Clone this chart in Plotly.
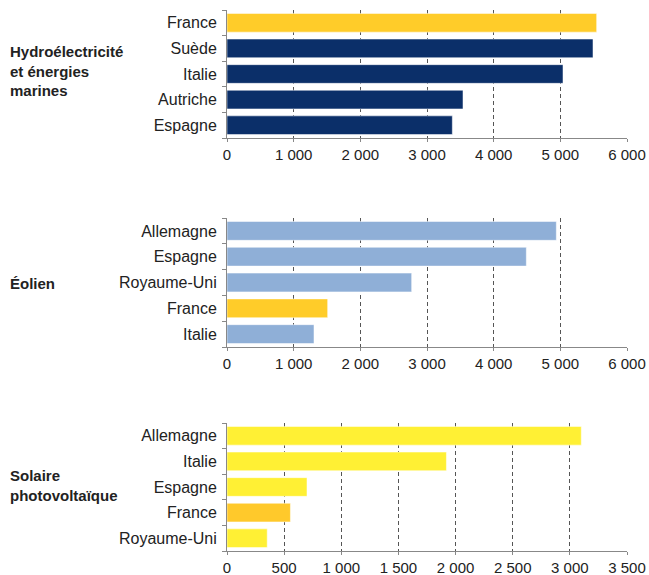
import plotly.graph_objects as go

# Hydroélectricité et énergies marines
hydro_pays = ["France", "Suède", "Italie", "Autriche", "Espagne"]
hydro_vals = [5545, 5490, 5040, 3540, 3380]

# Éolien
eolien_pays = ["Allemagne", "Espagne", "Royaume-Uni", "France", "Italie"]
eolien_vals = [4940, 4490, 2770, 1510, 1305]

# Solaire photovoltaïque
solaire_pays = ["Allemagne", "Italie", "Espagne", "France", "Royaume-Uni"]
solaire_vals = [3100, 1920, 700, 555, 352]

x_ticks_6000 = [0, 1000, 2000, 3000, 4000, 5000, 6000]
x_ticks_3500 = [0, 500, 1000, 1500, 2000, 2500, 3000, 3500]

YELLOW_FR = "#ffcc29"
NAVY = "#0b2f69"
LIGHT_BLUE = "#8fafd7"
SOLAR = "#fff034"
SOLAR_FR = "#ffc92b"

FONT = "Liberation Sans, Arial, sans-serif"

L, R, T, B = 227, 22, 10, 24
PW = 649 - L - R
PH = 575 - T - B


def fmt(v):
    return f"{v:,}".replace(",", " ")


def colors(pays, base, fr):
    return [fr if p == "France" else base for p in pays]


def dom(top_px, bot_px):
    return [(575 - B - bot_px) / PH, (575 - B - top_px) / PH]


panels = [
    (hydro_pays, hydro_vals, NAVY, YELLOW_FR, x_ticks_6000, dom(10, 138)),
    (eolien_pays, eolien_vals, LIGHT_BLUE, YELLOW_FR, x_ticks_6000, dom(218, 347)),
    (solaire_pays, solaire_vals, SOLAR, SOLAR_FR, x_ticks_3500, dom(423, 551)),
]

fig = go.Figure()
layout = {}

for i, (pays, vals, base, fr, ticks, d) in enumerate(panels, start=1):
    xa = "x" if i == 1 else f"x{i}"
    ya = "y" if i == 1 else f"y{i}"
    fig.add_trace(go.Bar(
        x=vals,
        y=pays,
        orientation="h",
        marker=dict(color=colors(pays, base, fr), line=dict(color="rgba(255,255,255,0.5)", width=1)),
        xaxis=xa,
        yaxis=ya,
        showlegend=False,
        hoverinfo="x+y",
    ))
    layout[f"xaxis{'' if i == 1 else i}"] = dict(
        anchor=ya,
        domain=[0, 1],
        range=[0, ticks[-1]],
        tickvals=ticks,
        ticktext=[fmt(t) for t in ticks],
        showgrid=True,
        gridcolor="#555555",
        griddash="4px,3px",
        gridwidth=1,
        showline=True,
        linecolor="#888888",
        linewidth=1,
        ticks="outside",
        ticklen=3,
        tickcolor="#888888",
        tickfont=dict(size=15, color="#222222", family=FONT),
        ticklabelstandoff=0,
        zeroline=False,
        automargin=False,
        fixedrange=True,
    )
    layout[f"yaxis{'' if i == 1 else i}"] = dict(
        anchor=xa,
        domain=d,
        categoryorder="array",
        categoryarray=list(reversed(pays)),
        showline=True,
        linecolor="#888888",
        linewidth=1,
        ticks="outside",
        tickson="boundaries",
        ticklen=4,
        tickcolor="#888888",
        tickfont=dict(size=16, color="#222222", family=FONT),
        ticklabelstandoff=6,
        showgrid=False,
        automargin=False,
        fixedrange=True,
    )

fig.update_layout(
    **layout,
    width=649,
    height=575,
    margin=dict(l=L, r=R, t=T, b=B),
    bargap=0.27,
    plot_bgcolor="white",
    paper_bgcolor="white",
    font=dict(family=FONT, size=16, color="#222222"),
)

labels = [
    ("Hydroélectricité<br>et énergies<br>marines", 71),
    ("Éolien", 283),
    ("Solaire<br>photovoltaïque", 485),
]
for text, ypix in labels:
    fig.add_annotation(
        text=text,
        xref="paper", yref="paper",
        x=(8 - L) / PW, y=(575 - B - ypix) / PH,
        xanchor="left", yanchor="middle",
        align="left",
        showarrow=False,
        font=dict(size=15, color="#222222", family=FONT, weight="bold"),
    )

fig.write_html(
    "out.html",
    config={"displayModeBar": False},
    post_script="document.body.style.margin='0';",
)
